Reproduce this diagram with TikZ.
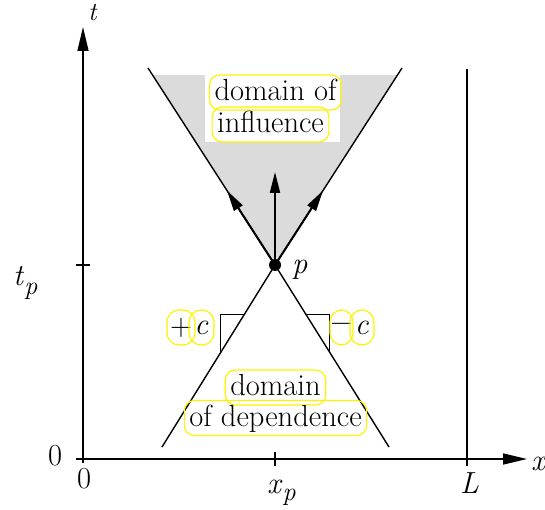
\documentclass[tikz,border=0pt]{standalone}
\usepackage{fontspec}
\usetikzlibrary{arrows.meta,calc}
\newcommand{\bigfs}{\fontsize{30.5}{34}\selectfont}
\newcommand{\subfs}{\fontsize{26}{26}\selectfont}
\newcommand{\vr}[1]{\textit{#1}}
\begin{document}
\begin{tikzpicture}[x=1pt,y=-1pt,
  axis/.style={line width=1.6pt},
  coneline/.style={line width=1.4pt},
  ticklin/.style={line width=1.4pt},
  bigtip/.style={-{Triangle[length=24pt,width=11pt]}},
  flowarrow/.style={line width=2pt,-{Triangle[length=21pt,width=10pt]}},
  lbl/.style={font=\bigfs, inner sep=0pt},
  ybox/.style={draw=yellow, line width=1.2pt, rounded corners=10pt,
    font=\bigfs, text height=22pt, text depth=6pt,
    inner ysep=3.5pt, inner xsep=5pt},
  sbox/.style={draw=yellow, line width=1.2pt, rounded corners=12pt,
    font=\bigfs, inner sep=0pt, minimum height=35pt}
]
\useasboundingbox (0,0) rectangle (545,510);
% key points
\coordinate (p) at (275,265);
\coordinate (ul) at (148,68);
\coordinate (ur) at (402,68);
\coordinate (ll) at (162,447);
\coordinate (lr) at (389,447);
\coordinate (O) at (83,459);
\coordinate (tstart) at (83,463);
\coordinate (ttop) at (83,27);
\coordinate (xstart) at (76,459);
\coordinate (xend) at (527,459);
\coordinate (tpa) at (76,265);
\coordinate (tpb) at (90,265);
\coordinate (xpa) at (275,452);
\coordinate (xpb) at (275,466);
\coordinate (La) at (467,69);
\coordinate (Lb) at (467,466);
% shaded domain of influence
\fill[black!14] (p) -- ($(p)!0.964!(ul)$) -- ($(p)!0.964!(ur)$) -- cycle;
\fill[white] (205,75) rectangle (340,142);
% axes
\draw[axis,bigtip] (tstart) -- (ttop);
\draw[axis,bigtip] (xstart) -- (xend);
\draw[ticklin] (tpa) -- (tpb);
\draw[ticklin] (xpa) -- (xpb);
\draw[coneline] (La) -- (Lb);
% characteristic lines
\draw[coneline] (ul) -- (p) -- (ur);
\draw[coneline] (ll) -- (p) -- (lr);
% arrows
\draw[flowarrow] (p) -- ($(p)!0.378!(ul)$);
\draw[flowarrow] (p) -- ($(p)!0.378!(ur)$);
\draw[flowarrow] (p) -- (275,172);
% slope indicators
\draw[line width=1.3pt] ($(p)!0.273!(ll)$) -| ($(p)!0.481!(ll)$);
\draw[line width=1.3pt] ($(p)!0.273!(lr)$) -| ($(p)!0.481!(lr)$);
% point p
\node[circle, fill=black, inner sep=0pt, minimum size=12pt] (pdot) at (p) {};
\node[lbl, anchor=base west] (plab) at (292,273) {\vr{p}};
% axis labels
\node[lbl, anchor=base west, font=\subfs] (tlab) at (88,21) {\vr{t}};
\node[lbl, anchor=base west] (xlab) at (531,470) {\vr{x}};
\node[lbl, anchor=base west] (zl) at (48,465) {0};
\node[lbl, anchor=base west] (zb) at (77,488) {0};
\node[lbl, anchor=base west] (tplab) at (13,285) {\vr{t}\raisebox{-9pt}{\subfs\vr{p}}};
\node[lbl, anchor=base west] (xplab) at (267,493) {\vr{x}\raisebox{-7pt}{\subfs\vr{p}}};
\node[lbl, anchor=base west] (Llab) at (460,493) {\vr{L}};
% domain labels
\node[ybox] (d1) at (275.5,92.5) {domain of};
\node[ybox] (d2) at (270.5,124.5) {influence};
\node[ybox] (d3) at (275.5,387.5) {domain};
\node[ybox] (d4) at (275.5,418) {of dependence};
% slope labels
\node[sbox, minimum width=28pt] (pl) at (181,327.5) {+};
\node[sbox, minimum width=25pt] (pc) at (201.5,327.5) {\vr{c}};
\node[sbox, minimum width=23pt] (mi) at (341.5,327.5) {−};
\node[sbox, minimum width=24pt] (mc) at (362,327.5) {\vr{c}};
\end{tikzpicture}
\end{document}
